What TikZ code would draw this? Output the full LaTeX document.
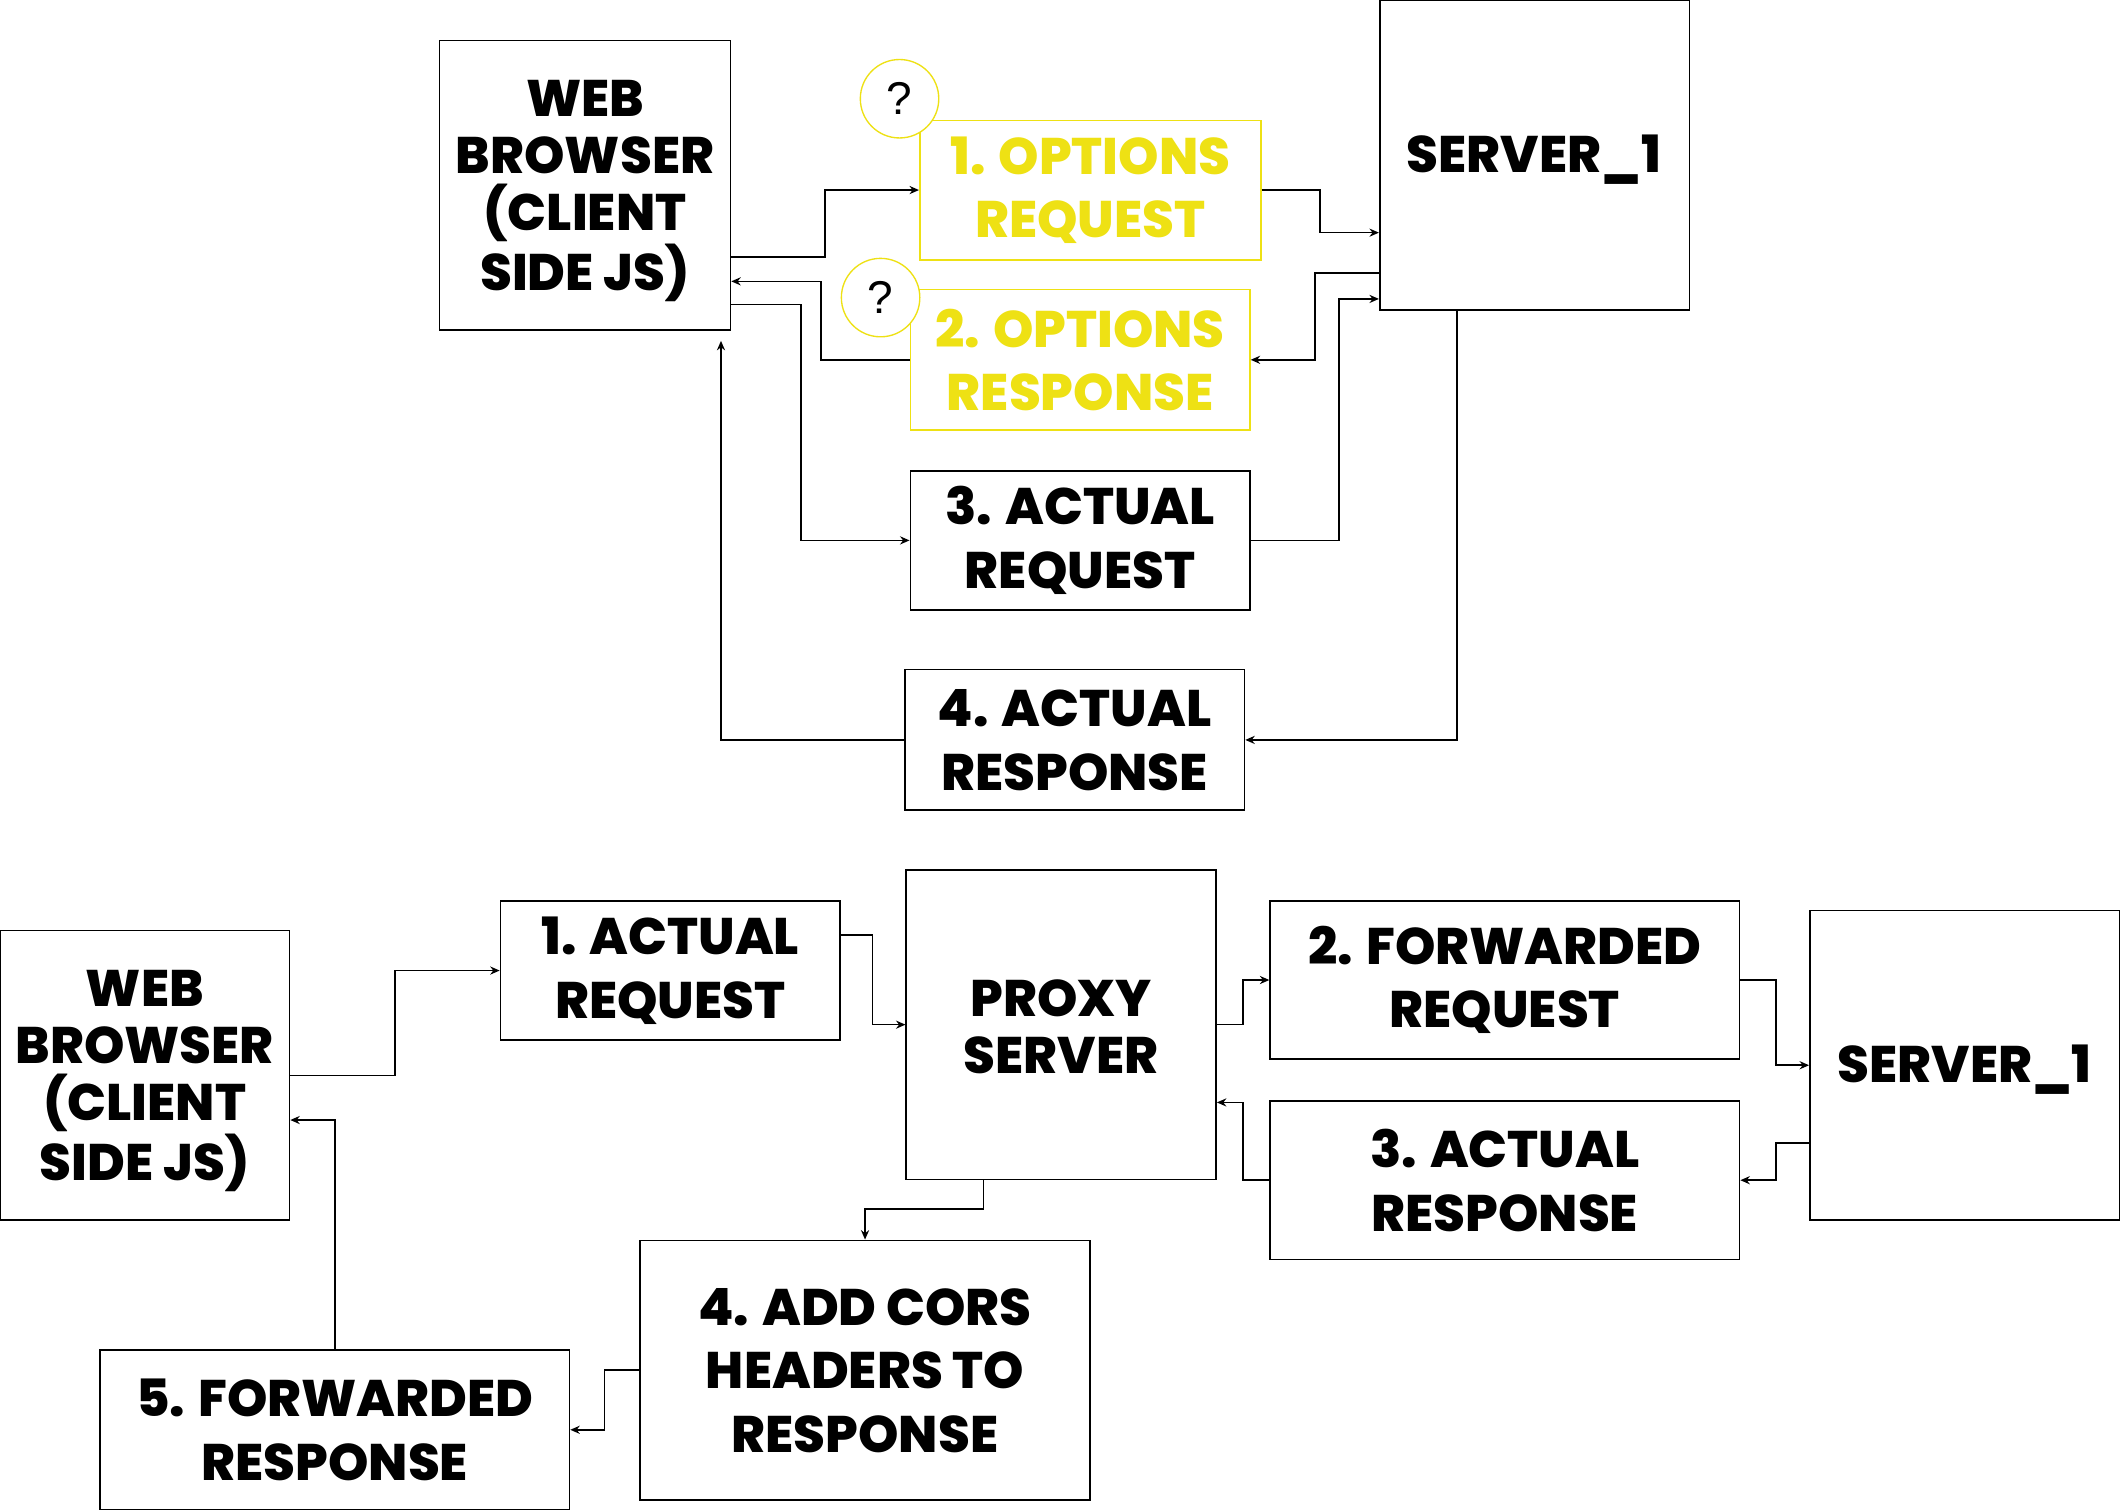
\documentclass[tikz,border=0pt]{standalone}
\usepackage{fontspec}
\setmainfont{Poppins}[BoldFont={Poppins ExtraBold}]
\newfontfamily\qfont{Liberation Sans}
\usetikzlibrary{fit,arrows.meta}
\definecolor{yel}{RGB}{238,225,20}
\begin{document}
\begin{tikzpicture}[x=0.5pt,y=-0.5pt,
  box/.style={draw=black,line width=0.6pt,inner sep=0pt},
  ybox/.style={box,draw=yel},
  txt/.style={align=center,inner sep=0pt,font=\fontsize{19}{23.5}\selectfont\bfseries},
  txtt/.style={align=center,inner sep=0pt,font=\fontsize{19}{21}\selectfont\bfseries,yshift=-2.25pt},
  txts/.style={inner sep=0pt,font=\fontsize{19}{21}\selectfont\bfseries,yshift=-1.5pt},
  qcirc/.style={circle,draw=yel,line width=0.5pt,minimum size=29pt,inner sep=0pt,
    fill=white,font=\qfont\fontsize{17}{17}\selectfont},
  arr/.style={line width=0.6pt,-{Stealth[length=3.5pt,width=3pt]}}]
\useasboundingbox (0,0) rectangle (1568,1117);
\fill[white] (0,0) rectangle (1568,1117);
% ---------- top ----------
\node[box,fit={(325,30) (540,244)}] (wb1) {};
\node[txtt] (wb1t) at (wb1.center) {WEB\\BROWSER\\(CLIENT\\SIDE JS)};
\node[ybox,fit={(680,89) (932,192)}] (oreq) {};
\node[txt,text=yel] (oreqt) at (oreq.center) {1. OPTIONS\\REQUEST};
\node[ybox,fit={(673,214) (924,318)}] (ores) {};
\node[txt,text=yel] (orest) at (ores.center) {2. OPTIONS\\RESPONSE};
\node[box,fit={(673,348) (924,451)}] (areq) {};
\node[txt] (areqt) at (areq.center) {3. ACTUAL\\REQUEST};
\node[box,fit={(669,495) (920,599)}] (ares) {};
\node[txt] (arest) at (ares.center) {4. ACTUAL\\RESPONSE};
\node[box,fit={(1020,0) (1249,229)}] (srv1) {};
\node[txts] (srv1t) at (1134,115) {SERVER\_1};
\node[qcirc] (q1) at (665,73) {?};
\node[qcirc] (q2) at (651,220) {?};
\coordinate (wb1tip) at (533,252);
\draw[arr] (wb1.east |- 0,190) -- (610,190) |- (oreq.west);
\draw[arr] (oreq.east) -| (976,172) -- (srv1.west |- 0,172);
\draw[arr] (srv1.west |- 0,202) -- (972,202) |- (ores.east);
\draw[arr] (ores.west) -- (607,266) |- (wb1.east |- 0,208);
\draw[arr] (wb1.east |- 0,225) -- (592,225) |- (areq.west);
\draw[arr] (areq.east) -- (990,399.5) |- (srv1.west |- 0,221);
\draw[arr] (srv1.south -| 1077,0) |- (ares.east);
\draw[arr] (ares.west) -| (wb1tip);
% ---------- bottom ----------
\node[box,fit={(0,688) (214,902)}] (wb2) {};
\node[txtt] (wb2t) at (wb2.center) {WEB\\BROWSER\\(CLIENT\\SIDE JS)};
\node[box,fit={(370,666) (621,769)}] (areq2) {};
\node[txt] (areq2t) at (areq2.center) {1. ACTUAL\\REQUEST};
\node[box,fit={(670,643) (899,872)}] (proxy) {};
\node[txtt,yshift=1.5pt] (proxyt) at (proxy.center) {PROXY\\SERVER};
\node[box,fit={(939,666) (1286,783)}] (freq) {};
\node[txt] (freqt) at (freq.center) {2. FORWARDED\\REQUEST};
\node[box,fit={(939,814) (1286,931)}] (ares2) {};
\node[txt] (ares2t) at (ares2.center) {3. ACTUAL\\RESPONSE};
\node[box,fit={(1338,673) (1567,902)}] (srv2) {};
\node[txts] (srv2t) at (srv2.center) {SERVER\_1};
\node[box,fit={(473,917) (806,1109)}] (cors) {};
\node[txt] (corst) at (cors.center) {4. ADD CORS\\HEADERS TO\\RESPONSE};
\node[box,fit={(74,998) (421,1116)}] (fres) {};
\node[txt] (frest) at (fres.center) {5. FORWARDED\\RESPONSE};
\draw[arr] (wb2.east |- 0,795) -- (292,795) |- (areq2.west);
\draw[arr] (areq2.east |- 0,691) -- (645,691) |- (proxy.west);
\draw[arr] (proxy.east) -- (919,757.5) |- (freq.west);
\draw[arr] (freq.east) -- (1313,724.5) |- (srv2.west);
\draw[arr] (srv2.west |- 0,845) -- (1313,845) |- (ares2.east);
\draw[arr] (ares2.west) -- (919,872.5) |- (proxy.east |- 0,815);
\draw[arr] (proxy.south -| 727,0) -- (727,894) -| (cors.north);
\draw[arr] (cors.west) -- (447,1013) |- (fres.east);
\draw[arr] (fres.north) |- (wb2.east |- 0,828);
\end{tikzpicture}
\end{document}
